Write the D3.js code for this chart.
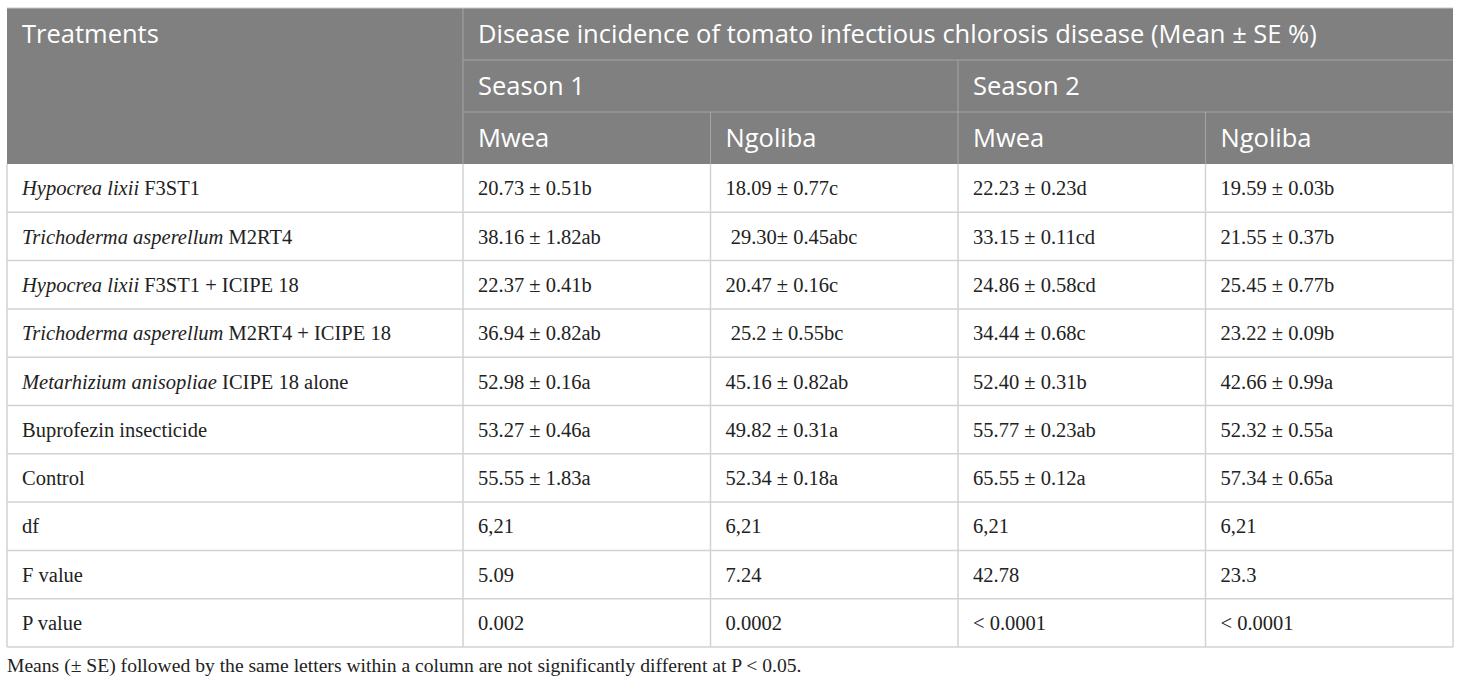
<!DOCTYPE html>
<html>
<head>
<meta charset="utf-8">
<script src="https://cdn.jsdelivr.net/npm/d3@7"></script>
<style>
  body { margin: 0; background: #fff; }
  svg { display: block; }
</style>
</head>
<body>
<div id="chart"></div>
<script>
// table content
const title = 'Disease incidence of tomato infectious chlorosis disease (Mean ± SE %)';
const seasons = ['Season 1', 'Season 2'];
const sites = ['Mwea', 'Ngoliba', 'Mwea', 'Ngoliba'];

// treatment name = [italic part, plain part]
const treatments = [
    ['Hypocrea lixii', ' F3ST1'],
    ['Trichoderma asperellum', ' M2RT4'],
    ['Hypocrea lixii', ' F3ST1 + ICIPE 18'],
    ['Trichoderma asperellum', ' M2RT4 + ICIPE 18'],
    ['Metarhizium anisopliae', ' ICIPE 18 alone'],
    ['', 'Buprofezin insecticide'],
    ['', 'Control'],
    ['', 'df'],
    ['', 'F value'],
    ['', 'P value']
];

const s1Mwea = ['20.73 ± 0.51b', '38.16 ± 1.82ab', '22.37 ± 0.41b', '36.94 ± 0.82ab', '52.98 ± 0.16a', '53.27 ± 0.46a', '55.55 ± 1.83a', '6,21', '5.09', '0.002'];
const s1Ngoliba = ['18.09 ± 0.77c', ' 29.30± 0.45abc', '20.47 ± 0.16c', ' 25.2 ± 0.55bc', '45.16 ± 0.82ab', '49.82 ± 0.31a', '52.34 ± 0.18a', '6,21', '7.24', '0.0002'];
const s2Mwea = ['22.23 ± 0.23d', '33.15 ± 0.11cd', '24.86 ± 0.58cd', '34.44 ± 0.68c', '52.40 ± 0.31b', '55.77 ± 0.23ab', '65.55 ± 0.12a', '6,21', '42.78', '< 0.0001'];
const s2Ngoliba = ['19.59 ± 0.03b', '21.55 ± 0.37b', '25.45 ± 0.77b', '23.22 ± 0.09b', '42.66 ± 0.99a', '52.32 ± 0.55a', '57.34 ± 0.65a', '6,21', '23.3', '< 0.0001'];

const footnote = 'Means (± SE) followed by the same letters within a column are not significantly different at P < 0.05.';

const width = 1460;
const height = 684;
const tblLeft = 7;
const tblRight = 1453;
const tblTop = 8;
const headRow = 52;
const bodyTop = tblTop + headRow * 3;
const bodyBottom = 647;
const pad = 15;

const headFont = "'Open Sans', 'Noto Sans', sans-serif";
const bodyFont = "'Liberation Serif', 'Times New Roman', serif";

const columns = [s1Mwea, s1Ngoliba, s2Mwea, s2Ngoliba];

// column edges: first column wide, four data columns share the rest
const x = d3.scaleLinear().domain([0, 1]).range([463, tblRight]);
const colEdges = [tblLeft].concat(d3.range(5).map(i => x(i / 4)));

const y = d3.scaleBand()
    .domain(d3.range(treatments.length))
    .range([bodyTop, bodyBottom]);

const svg = d3.select('#chart')
    .append('svg')
    .attr('width', width)
    .attr('height', height);

// header block
svg.append('rect')
    .attr('x', tblLeft)
    .attr('y', tblTop)
    .attr('width', tblRight - tblLeft)
    .attr('height', headRow * 3)
    .attr('fill', '#808080');

const headLines = [
    [colEdges[1], tblTop + headRow, tblRight, tblTop + headRow],
    [colEdges[1], tblTop + headRow * 2, tblRight, tblTop + headRow * 2],
    [colEdges[1], tblTop, colEdges[1], bodyTop],
    [colEdges[3], tblTop + headRow, colEdges[3], bodyTop],
    [colEdges[2], tblTop + headRow * 2, colEdges[2], bodyTop],
    [colEdges[4], tblTop + headRow * 2, colEdges[4], bodyTop]
];

svg.append('g')
    .selectAll('line')
    .data(headLines)
    .enter().append('line')
    .attr('x1', d => d[0])
    .attr('y1', d => d[1])
    .attr('x2', d => d[2])
    .attr('y2', d => d[3])
    .attr('stroke', '#a4a4a4')
    .attr('stroke-width', 1);

const headText = (tx, ty, label) => {
    svg.append('text')
        .attr('x', tx)
        .attr('y', ty)
        .attr('dy', '0.36em')
        .attr('fill', '#ffffff')
        .attr('font-family', headFont)
        .attr('font-size', 25.5)
        .text(label);
};

headText(tblLeft + pad, tblTop + headRow / 2, 'Treatments');
headText(colEdges[1] + pad, tblTop + headRow / 2, title);
seasons.forEach((s, i) => headText(colEdges[1 + i * 2] + pad, tblTop + headRow * 1.5, s));
sites.forEach((s, i) => headText(colEdges[1 + i] + pad, tblTop + headRow * 2.5, s));

// body grid
const grid = svg.append('g')
    .attr('stroke', '#d2d2d2')
    .attr('stroke-width', 1.5);

grid.selectAll('line.h')
    .data(d3.range(1, treatments.length + 1))
    .enter().append('line')
    .attr('class', 'h')
    .attr('x1', tblLeft)
    .attr('x2', tblRight)
    .attr('y1', d => d < treatments.length ? y(d) : bodyBottom)
    .attr('y2', d => d < treatments.length ? y(d) : bodyBottom);

grid.selectAll('line.v')
    .data(colEdges)
    .enter().append('line')
    .attr('class', 'v')
    .attr('x1', d => d)
    .attr('x2', d => d)
    .attr('y1', bodyTop)
    .attr('y2', bodyBottom);

// top outline of the header
svg.append('line')
    .attr('x1', tblLeft).attr('x2', tblRight)
    .attr('y1', tblTop).attr('y2', tblTop)
    .attr('stroke', '#c8c8c8');

// treatment names
const names = svg.append('g')
    .selectAll('text')
    .data(treatments)
    .enter().append('text')
    .attr('x', tblLeft + pad)
    .attr('y', (d, i) => y(i) + y.bandwidth() / 2)
    .attr('dy', '0.35em')
    .attr('fill', '#222')
    .attr('font-family', bodyFont)
    .attr('font-size', 20.5)
    .style('white-space', 'pre');

names.append('tspan')
    .attr('font-style', 'italic')
    .text(d => d[0]);

names.append('tspan')
    .text(d => d[1]);

// data cells
columns.forEach((col, c) => {
    svg.append('g')
        .selectAll('text')
        .data(col)
        .enter().append('text')
        .attr('x', colEdges[c + 1] + pad)
        .attr('y', (d, i) => y(i) + y.bandwidth() / 2)
        .attr('dy', '0.35em')
        .attr('fill', '#222')
        .attr('font-family', bodyFont)
        .attr('font-size', 20.5)
        .style('white-space', 'pre')
        .text(d => d);
});

svg.append('text')
    .attr('x', tblLeft)
    .attr('y', 665)
    .attr('dy', '0.35em')
    .attr('fill', '#222')
    .attr('font-family', bodyFont)
    .attr('font-size', 19.6)
    .text(footnote);
</script>
</body>
</html>
